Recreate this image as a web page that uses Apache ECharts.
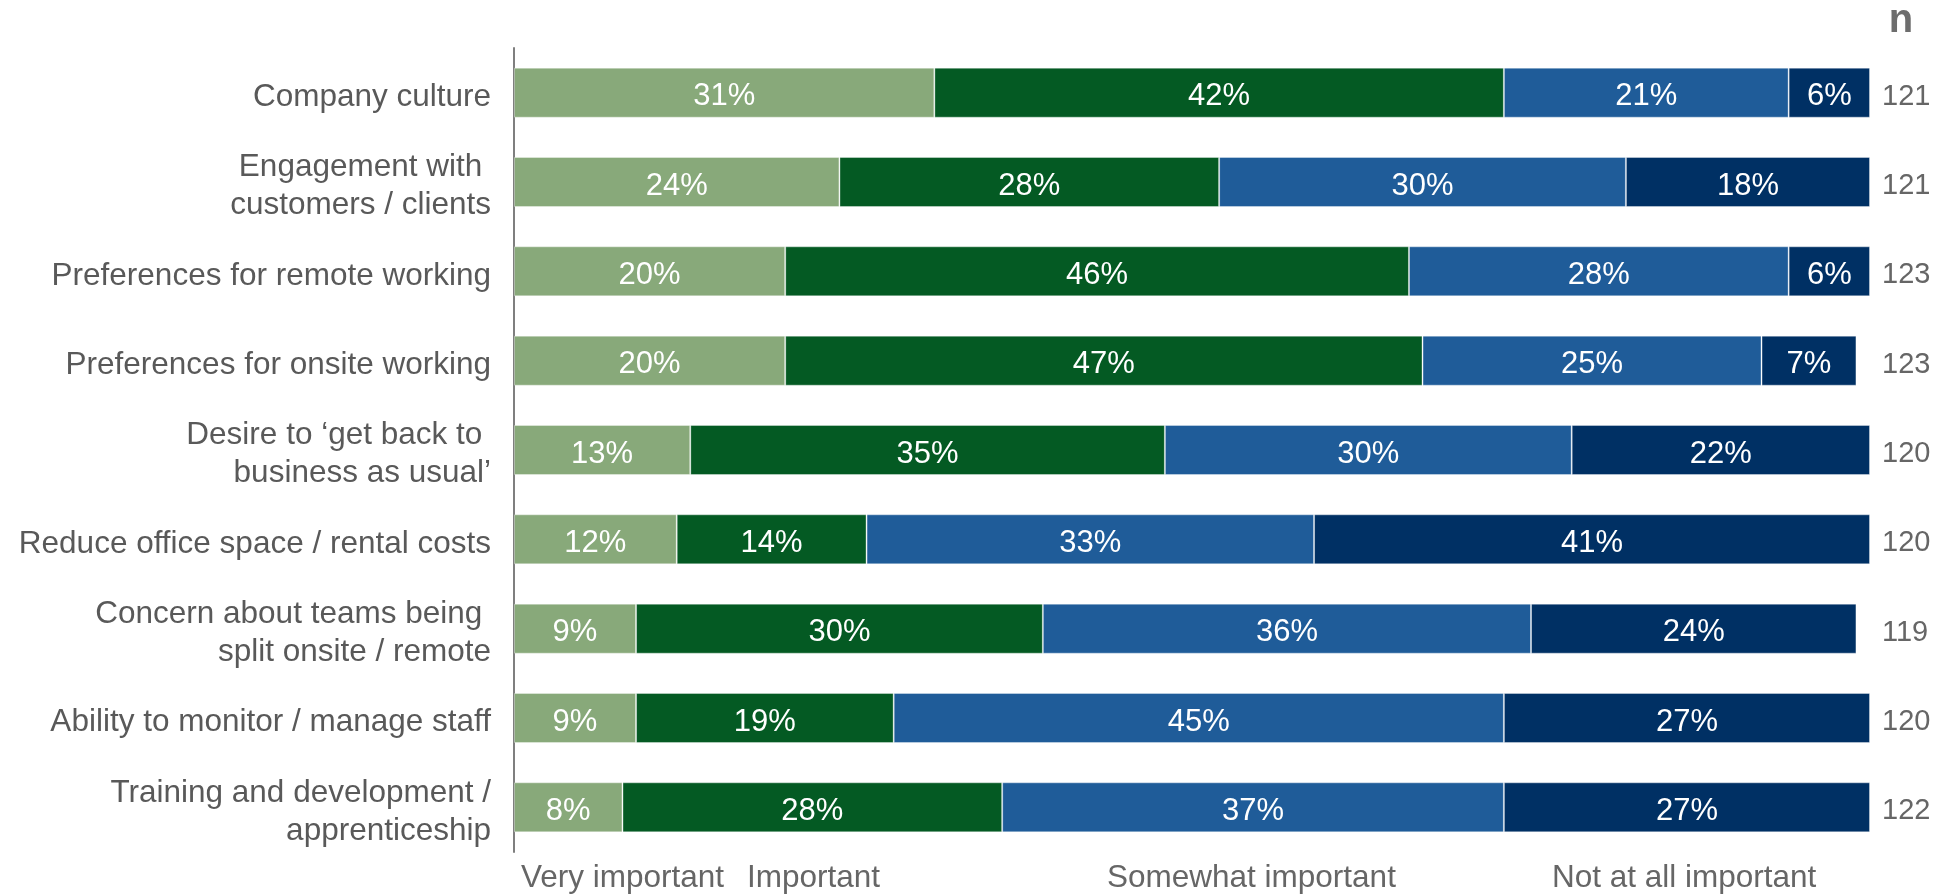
<!DOCTYPE html>
<html>
<head>
<meta charset="utf-8">
<title>Importance of factors</title>
<script src="https://cdn.jsdelivr.net/npm/echarts@6/dist/echarts.min.js"></script>
<style>
  html, body { margin: 0; padding: 0; background: #ffffff; }
  #chart { width: 1955px; height: 896px; }
</style>
</head>
<body>
<div id="chart"></div>
<script>
// Factors, listed top to bottom
const categories = [
  'Company culture',
  'Engagement with \ncustomers / clients',
  'Preferences for remote working',
  'Preferences for onsite working',
  'Desire to \u2018get back to \nbusiness as usual\u2019',
  'Reduce office space / rental costs',
  'Concern about teams being \nsplit onsite / remote',
  'Ability to monitor / manage staff',
  'Training and development /\napprenticeship'
];

// Share of respondents (%) per rating
const veryImportant = [31, 24, 20, 20, 13, 12, 9, 9, 8];
const important     = [42, 28, 46, 47, 35, 14, 30, 19, 28];
const somewhat      = [21, 30, 28, 25, 30, 33, 36, 45, 37];
const notAtAll      = [6, 18, 6, 7, 22, 41, 24, 27, 27];

// Number of respondents per factor
const nValues = [121, 121, 123, 123, 120, 120, 119, 120, 122];

// Rating names shown under the bars
const ratingNames = ['Very important', 'Important', 'Somewhat important', 'Not at all important'];

const colors = ['#88a97a', '#045a23', '#1f5c99', '#003064'];
const FONT = "'Liberation Sans', Arial, sans-serif";

const seriesValues = [veryImportant, important, somewhat, notAtAll];

const chart = echarts.init(document.getElementById('chart'), null, { renderer: 'canvas' });

const series = seriesValues.map((vals, i) => ({
  name: ratingNames[i],
  type: 'bar',
  stack: 'total',
  barWidth: 50,
  data: vals,
  itemStyle: {
    color: colors[i],
    borderColor: 'rgba(255,255,255,0.35)',
    borderWidth: 1
  },
  label: {
    show: true,
    position: 'inside',
    offset: [0, 4],
    color: '#ffffff',
    fontFamily: FONT,
    fontSize: 31,
    formatter: p => p.value + '%'
  },
  emphasis: { disabled: true },
  animation: false
}));

// Rating names under the bars, left to right
const ratingX = [521, 747, 1107, 1552];
const ratingGraphics = ratingNames.map((t, i) => ({
  type: 'text',
  x: ratingX[i],
  y: 878,
  style: {
    x: 0,
    y: 0,
    text: t,
    fill: '#666666',
    font: '31.5px ' + FONT,
    align: 'left',
    verticalAlign: 'middle'
  }
}));

// Wrap every line of an axis label in a rich token so the label box can be nudged down
const wrapLines = (tag) => (value) =>
  String(value).split('\n').map(line => '{' + tag + '|' + line + '}').join('\n');

chart.setOption({
  animation: false,
  grid: { left: 514, right: 85, top: 48, bottom: 44, containLabel: false },
  xAxis: {
    type: 'value',
    min: 0,
    max: 100,
    show: false
  },
  yAxis: [
    {
      type: 'category',
      data: categories,
      inverse: true,
      axisLine: { show: true, lineStyle: { color: '#7f7f7f', width: 2 } },
      axisTick: { show: false },
      splitLine: { show: false },
      axisLabel: {
        margin: 23,
        align: 'right',
        padding: [9, 0, 0, 0],
        formatter: wrapLines('c'),
        rich: {
          c: {
            color: '#595959',
            fontFamily: FONT,
            fontSize: 31.5,
            lineHeight: 38,
            align: 'right'
          }
        }
      }
    },
    {
      type: 'category',
      data: nValues.map(String),
      inverse: true,
      position: 'right',
      axisLine: { show: false },
      axisTick: { show: false },
      splitLine: { show: false },
      axisLabel: {
        margin: 12,
        align: 'left',
        padding: [8, 0, 0, 0],
        formatter: wrapLines('n'),
        rich: {
          n: {
            color: '#666666',
            fontFamily: FONT,
            fontSize: 29
          }
        }
      }
    }
  ],
  series: series,
  graphic: [
    {
      type: 'text',
      x: 1901,
      y: 21,
      style: {
        x: 0,
        y: 0,
        text: 'n',
        fill: '#6d6d6d',
        font: 'bold 40px ' + FONT,
        align: 'center',
        verticalAlign: 'middle'
      }
    }
  ].concat(ratingGraphics)
});
</script>
</body>
</html>
